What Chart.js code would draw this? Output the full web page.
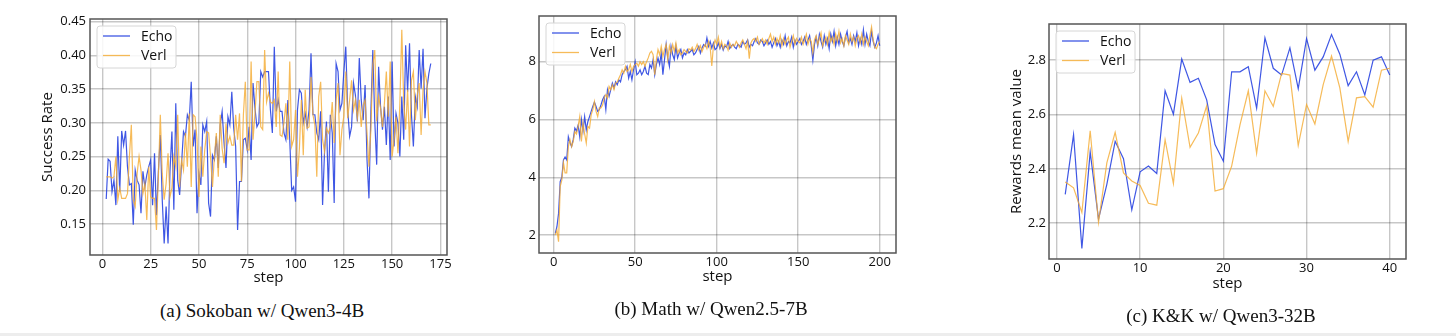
<!DOCTYPE html>
<html>
<head>
<meta charset="utf-8">
<script src="https://cdn.jsdelivr.net/npm/chart.js@4.4.1/dist/chart.umd.min.js"></script>
<style>
  body { margin: 0; width: 1456px; height: 336px; background: #fff; position: relative; overflow: hidden; }
  canvas { position: absolute; top: 0; }
  .cap { position: absolute; width: 300px; font-family: "Liberation Serif", serif; font-size: 19px; color: #111; text-align: center; line-height: 20px; white-space: nowrap; }
  #strip { position: absolute; left: 0; bottom: 0; width: 1456px; height: 3px; background: #ededed; }
</style>
</head>
<body>
<canvas id="chartA" width="480" height="300" style="left:0"></canvas>
<canvas id="chartB" width="480" height="300" style="left:480px"></canvas>
<canvas id="chartC" width="496" height="310" style="left:960px"></canvas>
<div class="cap" style="left:112px;top:301px">(a) Sokoban w/ Qwen3-4B</div>
<div class="cap" style="left:561px;top:299px">(b) Math w/ Qwen2.5-7B</div>
<div class="cap" style="left:1071px;top:306px">(c) K&amp;K w/ Qwen3-32B</div>
<div id="strip"></div>
<script>
// (a) Sokoban w/ Qwen3-4B, steps 2..170
const echoA = [0.187, 0.246, 0.243, 0.198, 0.215, 0.178, 0.28, 0.198, 0.288, 0.267, 0.288, 0.235, 0.208, 0.21, 0.149, 0.23, 0.215, 0.208, 0.166, 0.228,
  0.205, 0.223, 0.235, 0.245, 0.178, 0.255, 0.163, 0.228, 0.282, 0.186, 0.121, 0.176, 0.121, 0.228, 0.287, 0.171, 0.329, 0.215, 0.193, 0.24,
  0.287, 0.28, 0.312, 0.304, 0.361, 0.265, 0.29, 0.166, 0.225, 0.208, 0.297, 0.287, 0.302, 0.181, 0.161, 0.252, 0.245, 0.28, 0.233, 0.297,
  0.317, 0.27, 0.233, 0.309, 0.297, 0.346, 0.292, 0.265, 0.141, 0.213, 0.213, 0.275, 0.277, 0.26, 0.294, 0.245, 0.359, 0.322, 0.294, 0.3,
  0.376, 0.368, 0.376, 0.376, 0.376, 0.319, 0.285, 0.413, 0.317, 0.334, 0.317, 0.317, 0.285, 0.275, 0.334, 0.275, 0.2, 0.205, 0.183, 0.319,
  0.349, 0.344, 0.30, 0.314, 0.294, 0.319, 0.403, 0.312, 0.312, 0.285, 0.275, 0.317, 0.178, 0.257, 0.302, 0.198, 0.312, 0.285, 0.181, 0.388,
  0.376, 0.319, 0.329, 0.376, 0.413, 0.319, 0.28, 0.294, 0.359, 0.341, 0.302, 0.396, 0.334, 0.304, 0.356, 0.245, 0.188, 0.317, 0.408, 0.304,
  0.238, 0.383, 0.324, 0.29, 0.324, 0.267, 0.339, 0.245, 0.391, 0.265, 0.314, 0.3, 0.25, 0.339, 0.275, 0.415, 0.346, 0.418, 0.312, 0.265,
  0.339, 0.324, 0.408, 0.351, 0.41, 0.307, 0.351, 0.373, 0.388];
const verlA = [0.22, 0.22, 0.22, 0.218, 0.22, 0.25, 0.186, 0.203, 0.188, 0.188, 0.188, 0.195, 0.25, 0.297, 0.186, 0.176, 0.225, 0.25, 0.23, 0.195,
  0.21, 0.156, 0.235, 0.19, 0.188, 0.188, 0.141, 0.22, 0.312, 0.225, 0.186, 0.21, 0.255, 0.19, 0.203, 0.25, 0.235, 0.312, 0.205, 0.245,
  0.23, 0.285, 0.235, 0.314, 0.205, 0.312, 0.309, 0.275, 0.19, 0.265, 0.22, 0.26, 0.287, 0.285, 0.25, 0.205, 0.25, 0.285, 0.22, 0.312,
  0.262, 0.24, 0.299, 0.27, 0.28, 0.267, 0.267, 0.312, 0.275, 0.314, 0.213, 0.312, 0.361, 0.26, 0.26, 0.391, 0.275, 0.314, 0.361, 0.361,
  0.294, 0.29, 0.408, 0.331, 0.344, 0.331, 0.329, 0.334, 0.294, 0.376, 0.282, 0.28, 0.30, 0.329, 0.275, 0.391, 0.265, 0.275, 0.319, 0.22,
  0.262, 0.334, 0.252, 0.349, 0.292, 0.294, 0.368, 0.312, 0.297, 0.22, 0.339, 0.361, 0.275, 0.257, 0.292, 0.285, 0.294, 0.331, 0.27, 0.334,
  0.359, 0.252, 0.29, 0.31, 0.376, 0.307, 0.334, 0.363, 0.319, 0.334, 0.307, 0.334, 0.294, 0.326, 0.334, 0.285, 0.235, 0.29, 0.386, 0.408,
  0.302, 0.339, 0.322, 0.294, 0.329, 0.376, 0.309, 0.391, 0.25, 0.275, 0.309, 0.255, 0.329, 0.438, 0.33, 0.29, 0.349, 0.265, 0.363, 0.376,
  0.304, 0.341, 0.359, 0.282, 0.349, 0.376, 0.359, 0.297, 0.297];
const xTicksA = [0, 25, 50, 75, 100, 125, 150, 175];
const yTicksA = [0.15, 0.20, 0.25, 0.30, 0.35, 0.40, 0.45];

// (b) Math w/ Qwen2.5-7B, steps 1..200
const echoB = [2.06, 2.29, 2.75, 3.85, 4.0, 4.6, 4.7, 4.6, 5.4, 5.2, 5.06, 5.3, 5.7, 5.6, 5.8, 5.4, 6.0, 5.6, 6.1, 5.64,
  5.93, 6.1, 6.28, 6.45, 6.6, 6.45, 6.28, 6.34, 6.5, 6.68, 6.8, 6.34, 7.03, 6.8, 7.03, 7.26, 7.09, 7.3, 7.2, 7.37,
  7.3, 7.55, 7.66, 7.72, 7.84, 7.43, 7.66, 7.37, 7.72, 8.0, 7.55, 7.6, 7.72, 7.55, 7.66, 7.84, 7.6, 7.55, 7.9, 7.78,
  8.07, 7.55, 7.9, 8.13, 7.9, 8.3, 7.55, 8.07, 8.6, 8.13, 7.84, 8.53, 8.24, 8.07, 8.53, 8.13, 8.3, 8.42, 8.13, 8.3,
  8.24, 8.42, 8.3, 8.36, 8.42, 8.24, 8.3, 8.42, 8.53, 8.3, 8.47, 8.59, 8.53, 8.82, 8.53, 8.7, 8.47, 8.65, 8.42, 8.47,
  8.65, 8.45, 8.6, 8.4, 8.55, 8.5, 8.7, 8.45, 8.55, 8.6, 8.5, 8.45, 8.6, 8.55, 8.5, 8.7, 8.6, 8.65, 8.75, 8.5,
  8.6, 8.55, 8.7, 8.8, 8.65, 8.6, 8.75, 8.7, 8.55, 8.65, 8.75, 8.6, 8.7, 8.5, 8.65, 8.8, 8.55, 8.7, 8.5, 8.75,
  8.6, 8.9, 8.55, 8.7, 8.65, 8.85, 8.5, 8.75, 8.6, 8.7, 8.8, 8.6, 8.7, 8.85, 8.6, 8.75, 8.9, 8.55, 8.05, 8.6,
  8.85, 8.55, 8.95, 8.7, 8.5, 8.9, 8.6, 8.8, 8.45, 8.95, 8.7, 9.05, 8.55, 8.85, 8.6, 8.95, 8.7, 8.55, 8.85, 9.05,
  8.65, 8.8, 8.6, 8.9, 8.7, 9.0, 8.55, 8.8, 8.6, 9.1, 8.6, 8.95, 8.7, 8.55, 9.05, 8.7, 8.5, 8.65, 8.9, 8.55];
const verlB = [2.0, 2.17, 1.77, 3.68, 3.9, 4.5, 4.15, 4.15, 5.06, 5.3, 5.06, 5.24, 5.58, 5.5, 5.76, 6.1, 5.24, 5.87, 5.5, 5.18,
  5.76, 5.7, 6.16, 6.34, 6.62, 6.28, 6.1, 6.4, 6.4, 6.5, 6.74, 6.86, 6.74, 7.14, 7.03, 7.2, 7.03, 7.26, 7.3, 7.43,
  7.55, 7.72, 7.6, 7.84, 7.66, 7.72, 7.9, 7.66, 7.84, 7.9, 7.95, 7.84, 8.0, 7.9, 8.0, 7.84, 8.0, 8.13, 8.3, 8.36,
  8.24, 7.55, 8.07, 8.42, 8.24, 8.53, 8.18, 8.42, 8.59, 8.07, 8.53, 8.3, 8.59, 8.36, 8.65, 8.3, 8.42, 8.24, 8.3, 8.42,
  8.35, 8.3, 8.45, 8.4, 8.5, 8.35, 8.45, 8.6, 8.4, 8.55, 8.35, 8.5, 8.6, 8.45, 8.7, 8.5, 7.85, 8.55, 8.75, 8.6,
  8.85, 8.5, 8.7, 8.45, 8.6, 8.55, 8.4, 8.65, 8.5, 8.6, 8.55, 8.7, 8.6, 8.5, 8.65, 8.75, 8.6, 8.45, 8.7, 8.1,
  8.65, 8.75, 8.8, 8.7, 8.85, 8.6, 8.7, 8.8, 8.65, 8.75, 8.6, 8.8, 8.95, 8.7, 8.85, 8.6, 8.8, 8.65, 8.9, 8.55,
  8.8, 8.6, 8.75, 8.85, 8.5, 8.7, 8.9, 8.6, 8.8, 8.7, 8.65, 8.85, 8.6, 8.75, 8.95, 8.6, 8.8, 8.7, 8.3, 8.75,
  8.9, 8.6, 8.8, 9.0, 8.55, 8.7, 8.85, 8.6, 9.0, 8.7, 8.85, 8.6, 8.95, 8.7, 9.05, 8.65, 8.8, 8.55, 8.9, 8.75,
  8.6, 8.95, 8.7, 8.85, 8.55, 8.8, 8.9, 8.65, 8.95, 8.6, 8.85, 8.7, 8.55, 8.9, 9.2, 8.75, 8.5, 8.45, 8.6, 8.7];
const xTicksB = [0, 50, 100, 150, 200];
const yTicksB = [2, 4, 6, 8];

// (c) K&K w/ Qwen3-32B, steps 1..40
const echoC = [2.306, 2.526, 2.107, 2.462, 2.215, 2.343, 2.501, 2.437, 2.249, 2.389,
  2.41, 2.383, 2.687, 2.601, 2.804, 2.718, 2.733, 2.654, 2.489, 2.428,
  2.757, 2.757, 2.776, 2.623, 2.882, 2.77, 2.745, 2.845, 2.695, 2.879,
  2.763, 2.812, 2.894, 2.822, 2.706, 2.757, 2.672, 2.80, 2.812, 2.745];
const verlC = [2.351, 2.33, 2.239, 2.54, 2.203, 2.422, 2.534, 2.385, 2.355, 2.339,
  2.273, 2.266, 2.507, 2.346, 2.66, 2.479, 2.532, 2.632, 2.318, 2.327,
  2.41, 2.562, 2.687, 2.457, 2.687, 2.63, 2.751, 2.745, 2.486, 2.637,
  2.565, 2.71, 2.815, 2.698, 2.501, 2.661, 2.666, 2.627, 2.763, 2.77];
const xTicksC = [0, 10, 20, 30, 40];
const yTicksC = [2.2, 2.4, 2.6, 2.8];

const ECHO = "rgba(36, 64, 224, 0.88)";
const VERL = "rgba(244, 172, 52, 0.82)";
const FONT = "'Open Sans', sans-serif";
const INK = "#111";

function stepsFrom(first, n) {
  const out = [];
  for (let i = 0; i < n; i++) out.push(first + i);
  return out;
}

// dark frame round the plot area
const framePlugin = {
  id: "frame",
  afterDatasetsDraw(chart) {
    const { ctx, chartArea: a } = chart;
    ctx.save();
    ctx.strokeStyle = "#555";
    ctx.lineWidth = 1.5;
    ctx.strokeRect(a.left, a.top, a.right - a.left, a.bottom - a.top);
    ctx.restore();
  }
};

// matplotlib-style legend box in the upper left corner
const boxLegend = {
  id: "boxLegend",
  afterDraw(chart) {
    const { ctx, chartArea: a } = chart;
    const x = a.left + 7, y = a.top + 7, w = 79, h = 42;
    ctx.save();
    ctx.beginPath();
    ctx.roundRect(x, y, w, h, 3);
    ctx.fillStyle = "rgba(255,255,255,0.85)";
    ctx.fill();
    ctx.strokeStyle = "#d6d6d6";
    ctx.lineWidth = 1;
    ctx.stroke();
    ctx.font = "14px " + FONT;
    ctx.textBaseline = "middle";
    chart.data.datasets.forEach((ds, i) => {
      const ly = y + 10 + i * 19.5;
      ctx.strokeStyle = ds.borderColor;
      ctx.lineWidth = 1.3;
      ctx.beginPath();
      ctx.moveTo(x + 6, ly);
      ctx.lineTo(x + 33, ly);
      ctx.stroke();
      ctx.fillStyle = INK;
      ctx.fillText(ds.label, x + 44, ly + 1);
    });
    ctx.restore();
  }
};

function makeChart(id, p) {
  const grid = { color: "rgba(0,0,0,0.22)", lineWidth: 1.4, drawTicks: false };
  return new Chart(document.getElementById(id), {
    type: "line",
    data: {
      labels: p.steps,
      datasets: [
        { label: "Echo", data: p.echo, borderColor: ECHO, borderWidth: 1.2, pointRadius: 0, order: 1 },
        { label: "Verl", data: p.verl, borderColor: VERL, borderWidth: 1.2, pointRadius: 0, order: 0 }
      ]
    },
    options: {
      responsive: false,
      animation: false,
      layout: { padding: p.pad },
      plugins: { legend: { display: false }, tooltip: { enabled: false } },
      scales: {
        x: {
          type: "linear",
          min: p.xMin,
          max: p.xMax,
          grid: grid,
          border: { display: false },
          afterBuildTicks: (s) => { s.ticks = p.xTicks.map((v) => ({ value: v })); },
          afterFit: (s) => { s.height = p.xHeight; },
          ticks: { font: { family: FONT, size: 13 }, color: INK, padding: 1, maxRotation: 0 },
          title: { display: true, text: "step", font: { family: FONT, size: 15 }, color: INK, padding: 0 }
        },
        y: {
          min: p.yMin,
          max: p.yMax,
          grid: grid,
          border: { display: false },
          afterBuildTicks: (s) => { s.ticks = p.yTicks.map((v) => ({ value: v })); },
          afterFit: (s) => { s.width = p.yWidth; },
          ticks: {
            font: { family: FONT, size: 13 }, color: INK, padding: p.yTickPad,
            callback: (v) => v.toFixed(p.dec)
          },
          title: {
            display: !!p.yTitle, text: p.yTitle || "", font: { family: FONT, size: 15 }, color: INK,
            padding: { top: p.yTitlePad, bottom: 0 }
          }
        }
      }
    },
    plugins: [framePlugin, boxLegend]
  });
}

makeChart("chartA", {
  steps: stepsFrom(2, echoA.length), echo: echoA, verl: verlA,
  xMin: -6.4, xMax: 178.4, yMin: 0.104, yMax: 0.454, xTicks: xTicksA, yTicks: yTicksA, dec: 2,
  yTitle: "Success Rate", yTitlePad: 39, yWidth: 90, yTickPad: 4, xHeight: 32,
  pad: { top: 19, right: 33, bottom: 13, left: 0 }
});

makeChart("chartB", {
  steps: stepsFrom(1, echoB.length), echo: echoB, verl: verlB,
  xMin: -9, xMax: 210, yMin: 1.38, yMax: 9.58, xTicks: xTicksB, yTicks: yTicksB, dec: 0,
  yTitle: "", yTitlePad: 0, yWidth: 59, yTickPad: 3, xHeight: 33,
  pad: { top: 16, right: 64, bottom: 14, left: 0 }
});

makeChart("chartC", {
  steps: stepsFrom(1, echoC.length), echo: echoC, verl: verlC,
  xMin: -0.95, xMax: 41.95, yMin: 2.068, yMax: 2.933, xTicks: xTicksC, yTicks: yTicksC, dec: 1,
  yTitle: "Rewards mean value", yTitlePad: 48, yWidth: 89, yTickPad: 3, xHeight: 34,
  pad: { top: 24, right: 50, bottom: 17, left: 0 }
});
</script>
</body>
</html>
